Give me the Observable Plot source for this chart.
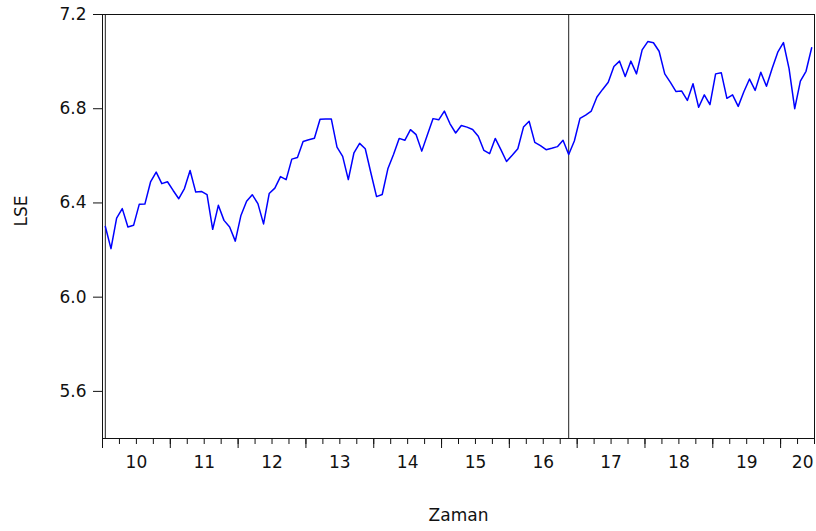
<!DOCTYPE html>
<html>
<head>
<meta charset="utf-8">
<script src="https://cdn.jsdelivr.net/npm/d3@7"></script>
<script src="https://cdn.jsdelivr.net/npm/@observablehq/plot@0.6"></script>
<style>
  html, body { margin: 0; padding: 0; background: white; }
</style>
</head>
<body>
<div id="chart"></div>
<script>
// Monthly LSE series, 2010M01 .. 2020M06
const startYear = 2010;
const lse = [
  6.300, 6.206, 6.336, 6.376, 6.298, 6.305, 6.394, 6.395, 6.489, 6.531, 6.482, 6.490,
  6.453, 6.418, 6.461, 6.538, 6.446, 6.449, 6.435, 6.288, 6.390, 6.326, 6.298, 6.238,
  6.347, 6.407, 6.435, 6.397, 6.311, 6.440, 6.463, 6.512, 6.499, 6.586, 6.593, 6.661,
  6.668, 6.675, 6.755, 6.756, 6.756, 6.637, 6.598, 6.499, 6.613, 6.653, 6.630, 6.527,
  6.427, 6.436, 6.545, 6.606, 6.674, 6.666, 6.711, 6.690, 6.620, 6.690, 6.758, 6.753,
  6.790, 6.736, 6.697, 6.729, 6.722, 6.712, 6.683, 6.623, 6.609, 6.674, 6.626, 6.576,
  6.602, 6.630, 6.722, 6.747, 6.657, 6.643, 6.626, 6.632, 6.639, 6.666, 6.606, 6.663,
  6.759, 6.773, 6.790, 6.850, 6.882, 6.912, 6.979, 7.002, 6.937, 7.002, 6.948, 7.050,
  7.085, 7.080, 7.044, 6.948, 6.912, 6.873, 6.875, 6.835, 6.906, 6.806, 6.859, 6.817,
  6.948, 6.953, 6.844, 6.859, 6.810, 6.872, 6.926, 6.878, 6.955, 6.895, 6.971, 7.040,
  7.081, 6.970, 6.800, 6.917, 6.959, 7.059
];
// vertical reference lines (year, month)
const breakDates = [[2010, 1], [2016, 11]];
const yearLabels = ["10", "11", "12", "13", "14", "15", "16", "17", "18", "19", "20"];
const yTicks = [5.6, 6.0, 6.4, 6.8, 7.2];
const yDomain = [5.4, 7.2];
const yLabel = "LSE";
const xLabel = "Zaman";

// Build table: observation index -> centered in its month slot
const n = lse.length;
const data = lse.map((v, i) => ({t: i + 0.5, v}));
const breaks = breakDates.map(([y, m]) => (y - startYear) * 12 + (m - 1) + 0.5);
const minorTicks = d3.range(0, n + 1, 3);
const majorTicks = d3.range(0, n + 1, 12);
const labelRows = yearLabels.map((s, k) => {
  const center = k * 12 + 6;
  return {s, x: Math.min(center, n), last: center >= n};
});

const chart = Plot.plot({
  width: 816,
  height: 531,
  marginLeft: 102,
  marginRight: 2,
  marginTop: 14,
  marginBottom: 93,
  style: {fontFamily: "DejaVu Sans, Liberation Sans, Arial, sans-serif", fontSize: "17px", color: "#111", background: "white", overflow: "visible"},
  x: {domain: [0, n], axis: null},
  y: {domain: yDomain, axis: null},
  marks: [
    Plot.ruleX(breaks, {stroke: "#222", strokeWidth: 1}),
    Plot.line(data, {x: "t", y: "v", stroke: "#0000ff", strokeWidth: 1.5}),
    Plot.frame({stroke: "#111", strokeWidth: 1}),
    Plot.axisY({ticks: yTicks, tickSize: 9, tickPadding: 7, tickFormat: d3.format(".1f"), label: null, stroke: "#111"}),
    Plot.axisX({ticks: minorTicks, tickSize: 6, tickFormat: () => "", label: null, stroke: "#111"}),
    Plot.axisX({ticks: majorTicks, tickSize: 10, tickFormat: () => "", label: null, stroke: "#111"}),
    Plot.text(labelRows.filter(d => !d.last), {x: "x", text: "s", frameAnchor: "bottom", dy: 29}),
    Plot.text(labelRows.filter(d => d.last), {x: "x", text: "s", frameAnchor: "bottom", dy: 29, textAnchor: "end", dx: -1}),
    Plot.text([yLabel], {frameAnchor: "left", dx: -81, rotate: -90}),
    Plot.text([xLabel], {frameAnchor: "bottom", dy: 82})
  ]
});
document.getElementById("chart").appendChild(chart);
</script>
</body>
</html>
